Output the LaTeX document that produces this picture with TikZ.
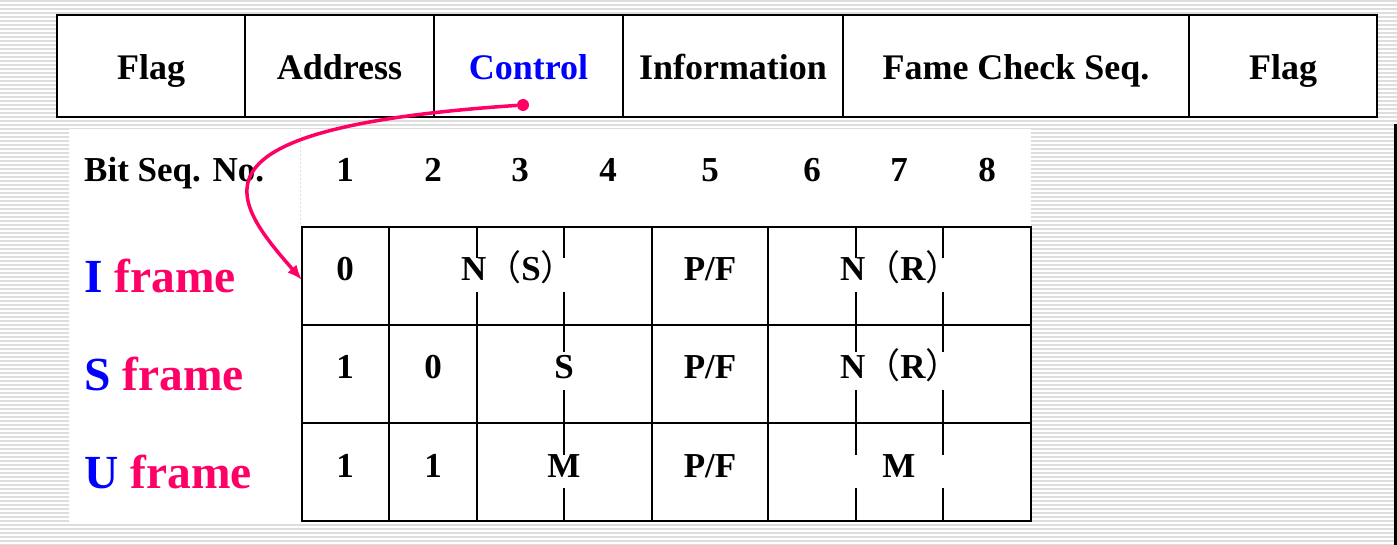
\documentclass[tikz,border=0pt]{standalone}
\usepackage{fontspec}
\setmainfont{Liberation Serif}
\newfontfamily\cjk{Noto Sans CJK SC}
\usetikzlibrary{positioning,arrows.meta}
\definecolor{fpink}{RGB}{255,0,102}
\definecolor{fblue}{RGB}{0,0,255}
\definecolor{stripegray}{RGB}{221,221,221}
\newcommand{\lpar}{{\cjk\mdseries （}}
\newcommand{\rpar}{{\cjk\mdseries ）}}

\begin{document}
\begin{tikzpicture}[x=1pt, y=-1pt,
    field/.style={draw, fill=white, line width=2pt, minimum height=102pt, inner sep=0pt, outer sep=0pt,
        text height=30pt, text depth=2pt, font=\fontsize{36}{40}\selectfont\bfseries},
    cell/.style={anchor=base, inner sep=0pt, font=\fontsize{35}{40}\selectfont\bfseries},
    framelbl/.style={anchor=base west, inner sep=0pt, text=fpink, font=\fontsize{47.5}{52}\selectfont\bfseries},
    tbl/.style={line width=2pt},
    stripe/.style={stripegray, line width=1.3pt},
    link/.style={fpink, line width=3.5pt, -{Latex[length=15pt,width=12pt]}}]
    \useasboundingbox (0,0) rectangle (1397,545);

    % Background
    \foreach \k in {0,...,136}
        \draw[stripe] (0,{4*\k+1}) -- (1397,{4*\k+1});
    \fill[white] (69,129) rectangle (1031,523);
    \fill (1394,124) rectangle (1397,545);
    \draw[gray!25, line width=1pt, dash pattern=on 2pt off 2pt] (300,130) -- (300,226);

    % Frame fields
    \node[field, minimum width=188pt, anchor=west] (flagl) at (57,66) {Flag};
    \node[field, minimum width=189pt, right=0pt of flagl] (addr) {Address};
    \node[field, minimum width=189pt, right=0pt of addr, text=fblue] (ctrl) {Control};
    \node[field, minimum width=220pt, right=0pt of ctrl] (info) {Information};
    \node[field, minimum width=346pt, right=0pt of info] (fcs) {Fame Check Seq.};
    \node[field, minimum width=188pt, right=0pt of fcs] (flagr) {Flag};

    % Bit numbers
    \node[cell, anchor=base west] (bitlbl) at (84,182) {Bit Seq. No.};
    \foreach \x [count=\i] in {345,433,520,608,710,812,899,987}
        \node[cell] (bit\i) at (\x,182) {\i};

    % Control field table
    \draw[tbl] (302,227) rectangle (1031,521);
    \foreach \y in {325,423}
        \draw[tbl] (302,\y) -- (1031,\y);
    \foreach \x in {389,652,768}
        \draw[tbl] (\x,227) -- (\x,521);
    \draw[tbl] (477,227) -- (477,258) (477,292) -- (477,521);
    \foreach \x in {564,856,943}
        \draw[tbl] (\x,227) -- (\x,258) (\x,292) -- (\x,352) (\x,390) -- (\x,455) (\x,488) -- (\x,521);

    % I frame
    \node[framelbl] (ilbl) at (84,292) {\textcolor{fblue}{I} frame};
    \node[cell] (i1) at (345,280) {0};
    \node[cell, anchor=base west] (ins) at (461,280) {N\lpar S\rpar};
    \node[cell] (ipf) at (710,280) {P/F};
    \node[cell, anchor=base west] (inr) at (840,280) {N\lpar R\rpar};

    % S frame
    \node[framelbl] (slbl) at (84,390) {\textcolor{fblue}{S} frame};
    \node[cell] (s1) at (345,378) {1};
    \node[cell] (s2) at (433,378) {0};
    \node[cell] (ss) at (564,378) {S};
    \node[cell] (spf) at (710,378) {P/F};
    \node[cell, anchor=base west] (snr) at (840,378) {N\lpar R\rpar};

    % U frame
    \node[framelbl] (ulbl) at (84,488) {\textcolor{fblue}{U} frame};
    \node[cell] (u1) at (345,477) {1};
    \node[cell] (u2) at (433,477) {1};
    \node[cell] (um) at (564,477) {M};
    \node[cell] (upf) at (710,477) {P/F};
    \node[cell] (um2) at (899,477) {M};

    % Control bits
    \node[circle, fill=fpink, minimum size=12pt, inner sep=0pt] (ctrldot) at (523,105) {};
    \coordinate (iframein) at (302,280);
    \draw[link] (ctrldot) .. controls (180,128) and (229,197) .. (iframein);
\end{tikzpicture}
\end{document}
